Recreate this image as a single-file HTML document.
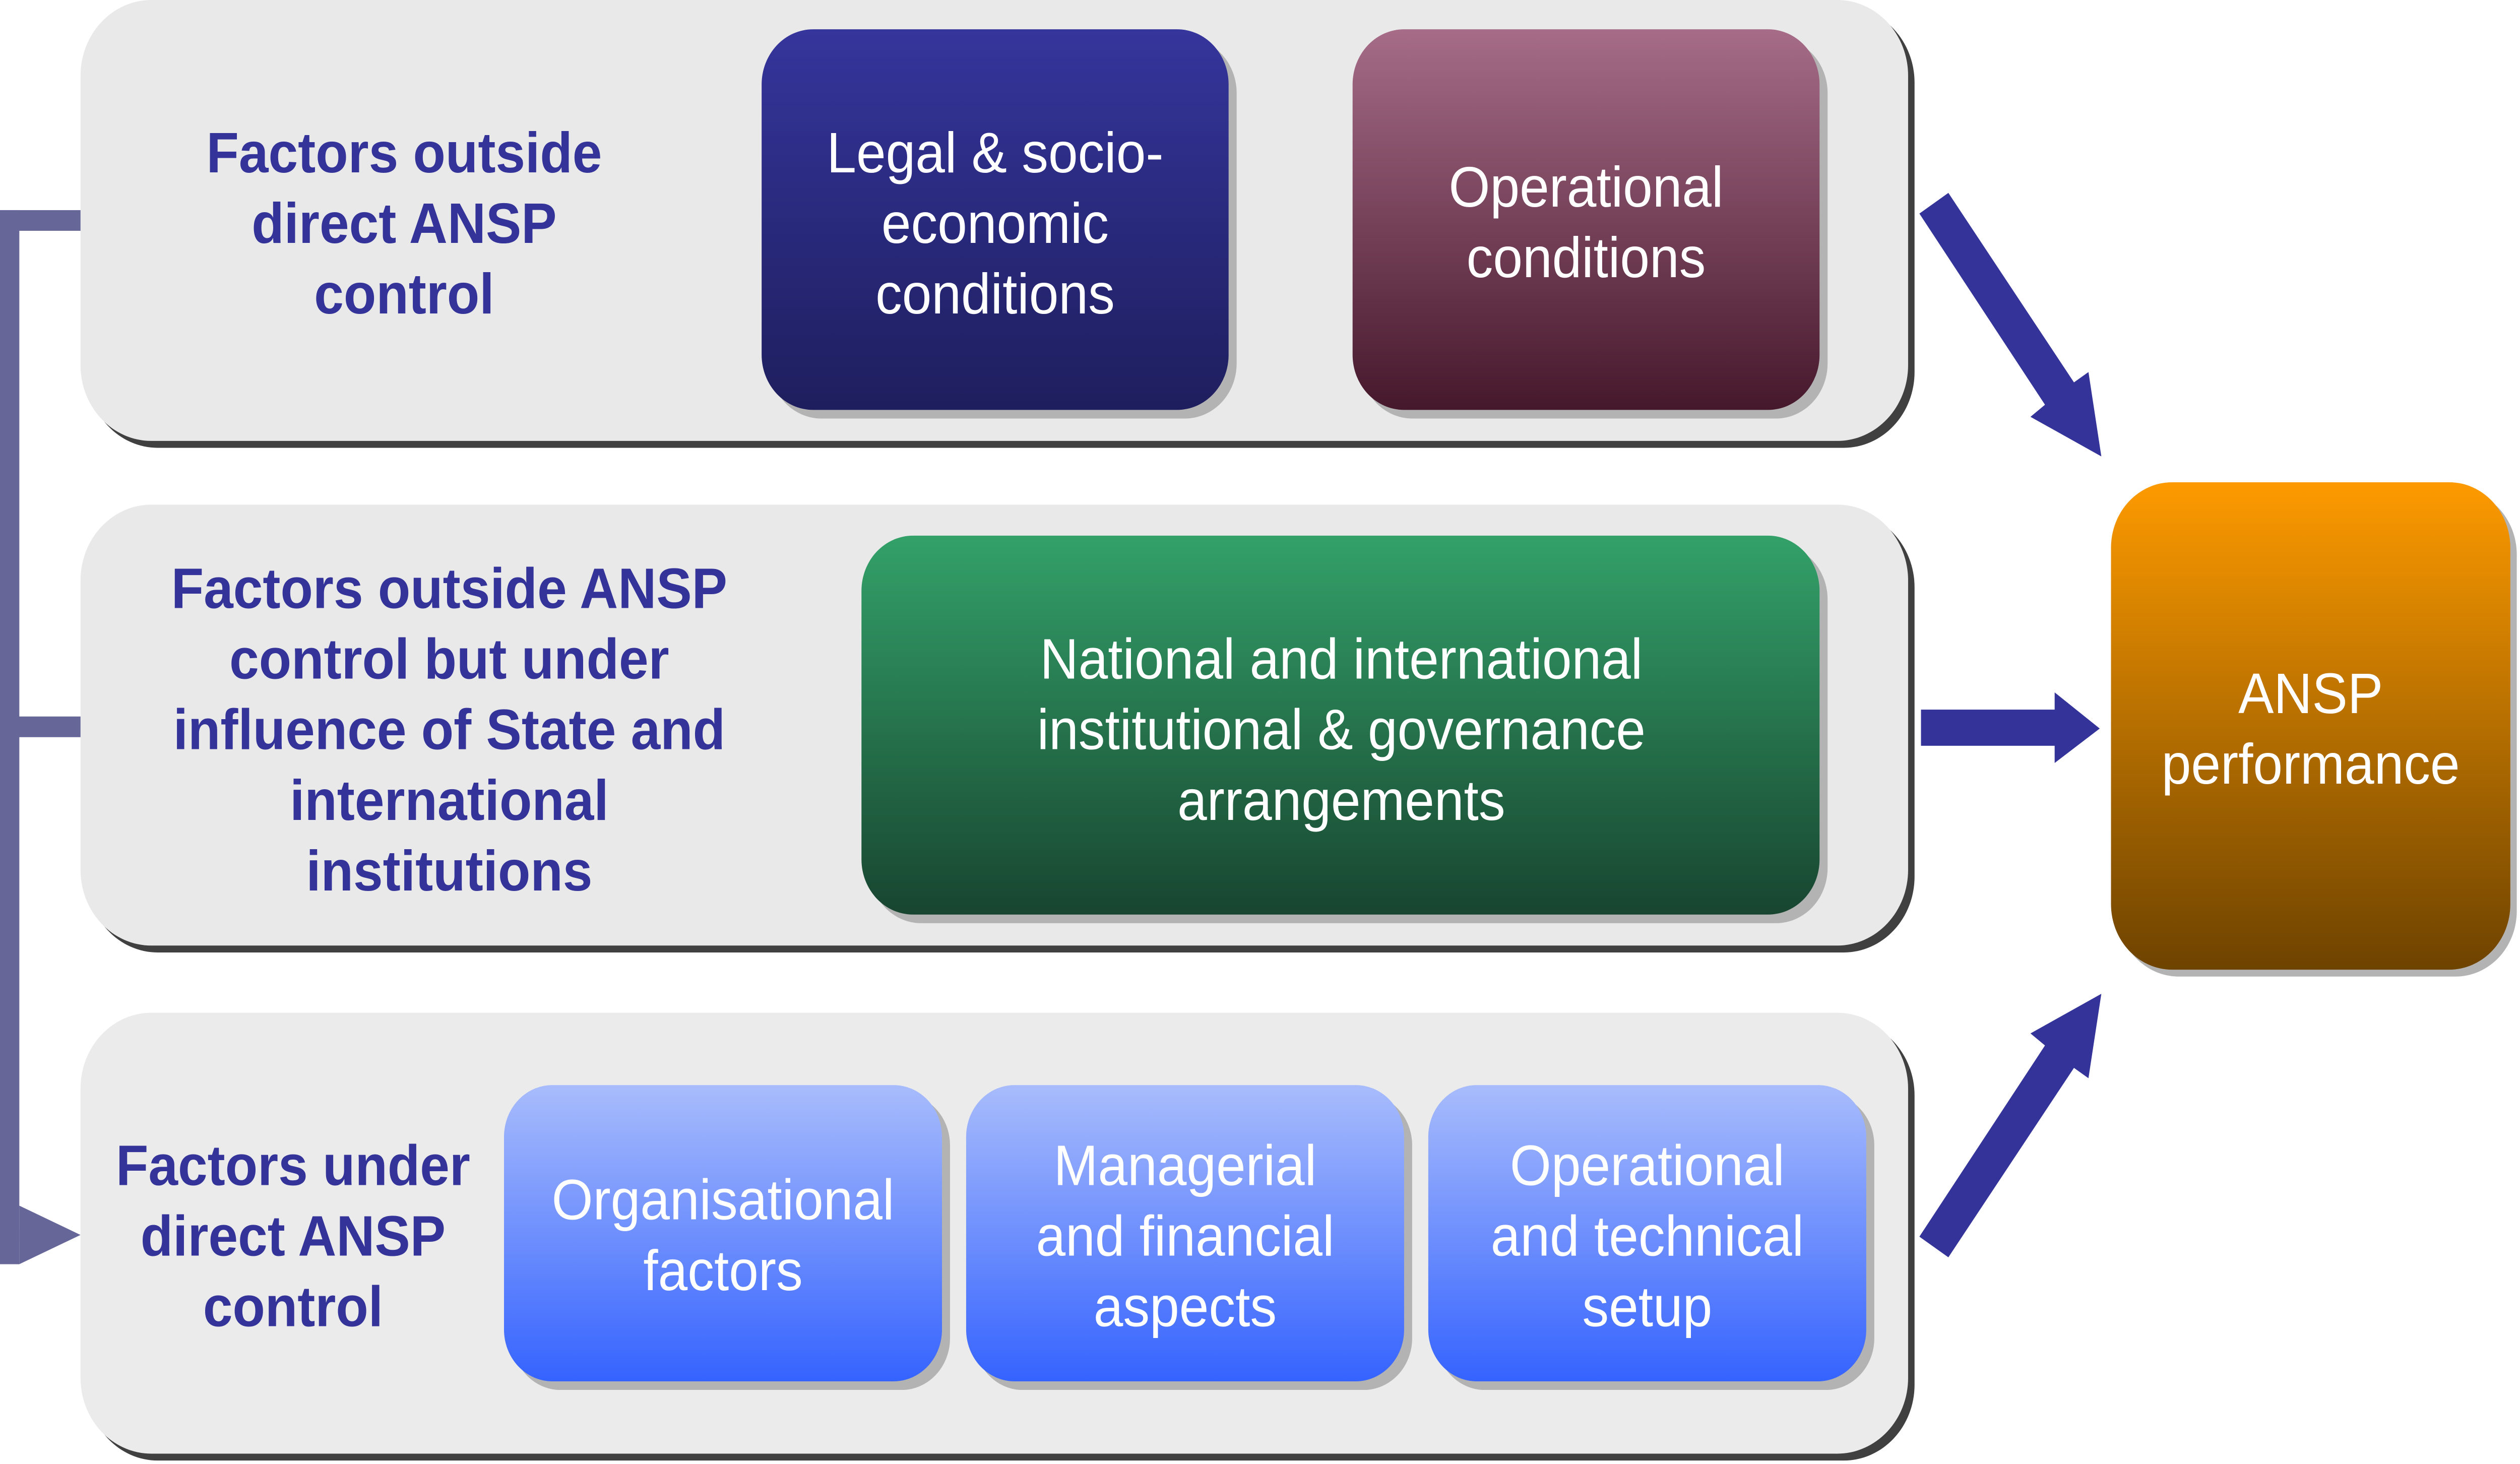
<!DOCTYPE html>
<html><head><meta charset="utf-8"><style>html,body{margin:0;padding:0;background:#fff;width:100%;height:100%;overflow:hidden}svg{display:block;position:fixed;left:0;top:0;width:100vw;height:100vh}</style></head>
<body>
<svg viewBox="0 0 1565 850" preserveAspectRatio="none" xmlns="http://www.w3.org/2000/svg">
<defs>
<linearGradient id="gLeg" x1="0" y1="0" x2="0" y2="1"><stop offset="0" stop-color="#35359c"/><stop offset="1" stop-color="#1e1e5e"/></linearGradient>
<linearGradient id="gOp" x1="0" y1="0" x2="0" y2="1"><stop offset="0" stop-color="#a66c88"/><stop offset="1" stop-color="#46182c"/></linearGradient>
<linearGradient id="gGr" x1="0" y1="0" x2="0" y2="1"><stop offset="0" stop-color="#33a169"/><stop offset="1" stop-color="#184530"/></linearGradient>
<linearGradient id="gBl" x1="0" y1="0" x2="0" y2="1"><stop offset="0" stop-color="#a8bcfc"/><stop offset="1" stop-color="#3563fe"/></linearGradient>
<linearGradient id="gOr" x1="0" y1="0" x2="0" y2="1"><stop offset="0" stop-color="#fd9a00"/><stop offset="1" stop-color="#6e4300"/></linearGradient>
</defs>
<g fill="#666699">
<rect x="0" y="122" width="12" height="612"/>
<rect x="0" y="122" width="52" height="12"/>
<rect x="0" y="416" width="52" height="12"/>
<polygon points="12,700 50,717 12,734"/>
</g>
<rect x="54" y="4" width="1135" height="256" rx="44" fill="#404040"/>
<rect x="50" y="0" width="1135" height="256" rx="44" fill="#e9e9e9"/>
<rect x="54" y="297" width="1135" height="256" rx="44" fill="#404040"/>
<rect x="50" y="293" width="1135" height="256" rx="44" fill="#e9e9e9"/>
<rect x="54" y="592" width="1135" height="256" rx="44" fill="#404040"/>
<rect x="50" y="588" width="1135" height="256" rx="44" fill="#ebebeb"/>
<g fill="#b3b3b3">
<rect x="478" y="22" width="290" height="221" rx="32"/>
<rect x="845" y="22" width="290" height="221" rx="32"/>
<rect x="540" y="316" width="595" height="220" rx="32"/>
<rect x="318" y="635" width="272" height="172" rx="30"/>
<rect x="605" y="635" width="272" height="172" rx="30"/>
<rect x="892" y="635" width="272" height="172" rx="30"/>
<rect x="1315" y="284" width="248" height="283" rx="38"/>
</g>
<rect x="473" y="17" width="290" height="221" rx="32" fill="url(#gLeg)"/>
<rect x="840" y="17" width="290" height="221" rx="32" fill="url(#gOp)"/>
<rect x="535" y="311" width="595" height="220" rx="32" fill="url(#gGr)"/>
<rect x="313" y="630" width="272" height="172" rx="30" fill="url(#gBl)"/>
<rect x="600" y="630" width="272" height="172" rx="30" fill="url(#gBl)"/>
<rect x="887" y="630" width="272" height="172" rx="30" fill="url(#gBl)"/>
<rect x="1311" y="280" width="248" height="283" rx="38" fill="url(#gOr)"/>
<g fill="#333399">
<polygon points="1192,124 1210,112 1288,222 1297,216 1305,265 1261,242 1270,235"/>
<rect x="1193" y="412" width="85" height="21"/>
<polygon points="1276,402 1304,423 1276,443"/>
<polygon points="1192,718 1210,730 1288,620 1297,626 1305,577 1261,600 1270,607"/>
</g>
<g font-family="Liberation Sans, Arial, sans-serif" font-weight="bold" font-size="33" fill="#333399" text-anchor="middle">
<text x="251" y="100">Factors outside</text>
<text x="251" y="141">direct ANSP</text>
<text x="251" y="182">control</text>
<text x="279" y="353">Factors outside ANSP</text>
<text x="279" y="394">control but under</text>
<text x="279" y="435">influence of State and</text>
<text x="279" y="476">international</text>
<text x="279" y="517">institutions</text>
<text x="182" y="688">Factors under</text>
<text x="182" y="729">direct ANSP</text>
<text x="182" y="770">control</text>
</g>
<g font-family="Liberation Sans, Arial, sans-serif" font-size="33" fill="#ffffff" text-anchor="middle">
<text x="618" y="100">Legal &amp; socio-</text>
<text x="618" y="141">economic</text>
<text x="618" y="182">conditions</text>
<text x="985" y="120">Operational</text>
<text x="985" y="161">conditions</text>
<text x="833" y="394">National and international</text>
<text x="833" y="435">institutional &amp; governance</text>
<text x="833" y="476">arrangements</text>
<text x="449" y="708">Organisational</text>
<text x="449" y="749">factors</text>
<text x="736" y="688">Managerial</text>
<text x="736" y="729">and financial</text>
<text x="736" y="770">aspects</text>
<text x="1023" y="688">Operational</text>
<text x="1023" y="729">and technical</text>
<text x="1023" y="770">setup</text>
<text x="1435" y="414">ANSP</text>
<text x="1435" y="455">performance</text>
</g>
</svg>
</body></html>
